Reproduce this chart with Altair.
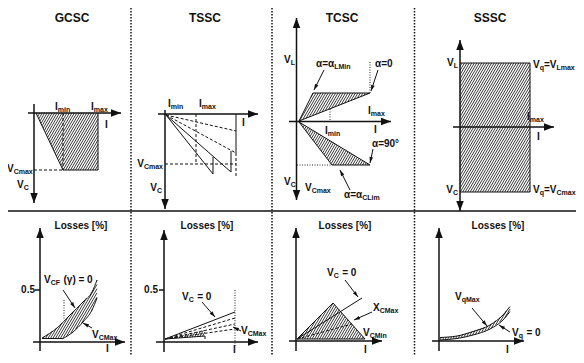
import math
import altair as alt
import pandas as pd

INK = "#111111"
FONT = "Liberation Sans, Arial, sans-serif"
WF = 1.0           # width factor of the face
TITLE_FS, LOSS_FS, MAIN_FS, SUB_FS = 12, 10, 10, 7

# ---------------- data (pixel units) ----------------
PANEL_TITLES = ["GCSC", "TSSC", "TCSC", "SSSC"]
PANEL_TITLE_X = [72, 205, 342, 490]
PANEL_TITLE_Y = 18
LOSS_TITLE = "Losses [%]"
LOSS_TITLE_X = [81, 207, 345, 498]
LOSS_TITLE_Y = 226

DIVIDER_H = [(8, 211, 584, 211)]
DIVIDER_V_X = [131, 272, 414.5]
DIVIDER_V_Y = (5, 363)

# axes: x1, y1, x2(tip), y2(tip), heads (1 = at tip, 2 = both ends)
AXES = [
    (34, 104, 34, 203, 1), (28, 113, 121, 113, 1),
    (165, 110, 165, 209, 1), (158, 114, 258, 114, 1),
    (296.5, 200, 296.5, 18, 2), (289, 121.5, 391, 121.5, 1),
    (460, 211, 460, 40, 2), (453, 127, 554, 127, 1),
    (40, 351, 40, 228, 1), (33, 342, 125, 342, 1),
    (164, 352, 164, 230, 1), (156, 342, 258, 342, 1),
    (296, 351, 296, 228, 1), (289, 341, 382, 341, 1),
    (439, 351, 439, 228, 1), (432, 341, 524, 341, 1),
]
TICKS = [(35, 290, 40, 290), (159, 290, 164, 290)]

SOLID = [
    # GCSC operating area
    (36, 113, 63, 170), (98, 113, 98, 170), (63, 170, 98, 170),
    # TSSC sawtooth
    (166, 115, 213, 174), (213, 174, 213, 157), (166, 115, 231, 172),
    (231, 172, 231, 151), (236, 114, 236, 153),
    # TCSC areas
    (299, 121, 313, 93), (313, 93, 370, 93), (299, 121, 370, 93),
    (299, 122, 332, 165), (332, 165, 370, 165), (299, 122, 370, 165),
    # SSSC area
    (460, 63, 530, 63), (530, 63, 530, 192), (460, 192, 530, 192),
    # losses
    (42, 338.5, 62, 338.5),
    (165, 339, 235, 312), (165, 339, 205, 336), (205, 336, 205, 339),
    (297, 339, 333, 303), (333, 303, 365, 339), (297, 339, 365, 339),
    (297, 339, 362, 298),
]
DASHED = [
    (63, 113, 63, 170), (34, 170, 63, 170),
    (166, 115, 236, 131), (166, 115, 236, 153), (196, 114, 196, 164),
    (165, 164, 236, 164), (236, 153, 236, 178),
    (165, 339, 235, 318), (165, 339, 235, 324), (165, 339, 235, 329),
    (297, 339, 352, 324),
]
DOTTED = [
    (370, 62, 370, 93), (330, 109, 330, 121), (297, 165, 332, 165),
    (64, 300, 64, 320), (235, 290, 235, 346),
]
# annotation arrows: tail x, tail y, tip x, tip y
ANNOT = [
    (324, 70, 314, 90), (378, 70, 371, 91), (373, 149, 370, 163), (350, 190, 340, 170),
    (63, 290, 75, 308), (92, 328, 83, 323),
    (202, 302, 215, 317), (241, 331, 233, 327),
    (345, 280, 358, 297), (372, 312, 354, 320),
    (472, 308, 487, 326), (510, 332, 499, 325),
]
CURVES = {
    "gcsc_upper": [(42, 338), (57, 328), (70, 315), (83, 302), (92, 292), (97, 280)],
    "gcsc_lower": [(62, 339), (73, 332), (83, 322), (92, 310), (97, 298)],
    "sssc_upper": [(440, 337.5), (457, 336), (473, 331.5), (490, 325), (503, 315), (510, 306.5)],
    "sssc_lower": [(440, 340), (457, 338.5), (473, 335), (490, 329), (503, 320), (510, 311.5)],
}
HATCH_POLYS = [
    [(36, 113), (98, 113), (98, 170), (63, 170)],
    [(299, 121), (313, 93), (370, 93)],
    [(299, 122), (332, 165), (370, 165)],
    [(460, 63), (530, 63), (530, 192), (460, 192)],
    CURVES["gcsc_upper"] + CURVES["gcsc_lower"][::-1],
    [(166, 339), (205, 330), (205, 336)],
    [(297, 339), (333, 303), (365, 339)],
    CURVES["sssc_upper"] + CURVES["sssc_lower"][::-1],
]
# labels: x, y, align, parts (text, kind: 0 normal, 1 subscript, 2 normal after a space)
LABELS = [
    (55, 107, "left", [("I", 0), ("min", 1)]),
    (91, 107, "left", [("I", 0), ("max", 1)]),
    (105, 125, "left", [("I", 0)]),
    (7, 169, "left", [("V", 0), ("Cmax", 1)]),
    (17, 185, "left", [("V", 0), ("C", 1)]),
    (168, 104, "left", [("I", 0), ("min", 1)]),
    (199, 104, "left", [("I", 0), ("max", 1)]),
    (242, 123, "left", [("I", 0)]),
    (163, 164, "right", [("V", 0), ("Cmax", 1)]),
    (162, 188, "right", [("V", 0), ("C", 1)]),
    (284, 60, "left", [("V", 0), ("L", 1)]),
    (284, 182, "left", [("V", 0), ("C", 1)]),
    (305, 188, "left", [("V", 0), ("Cmax", 1)]),
    (316, 64, "left", [("α=α", 0), ("LMin", 1)]),
    (375, 64, "left", [("α=0", 0)]),
    (368, 111, "left", [("I", 0), ("max", 1)]),
    (374, 130, "left", [("I", 0)]),
    (325, 131, "left", [("I", 0), ("min", 1)]),
    (372, 144, "left", [("α=90°", 0)]),
    (344, 195, "left", [("α=α", 0), ("CLim", 1)]),
    (458, 63, "right", [("V", 0), ("L", 1)]),
    (458, 190, "right", [("V", 0), ("C", 1)]),
    (533, 65, "left", [("V", 0), ("q", 1), ("=V", 0), ("Lmax", 1)]),
    (533, 190, "left", [("V", 0), ("q", 1), ("=V", 0), ("Cmax", 1)]),
    (527, 117, "left", [("I", 0), ("max", 1)]),
    (537, 137, "left", [("I", 0)]),
    (35, 290, "right", [("0.5", 0)]),
    (44, 280, "left", [("V", 0), ("CF", 1), ("(γ) = 0", 2)]),
    (92, 335, "left", [("V", 0), ("CMax", 1)]),
    (106, 349, "left", [("I", 0)]),
    (158, 290, "right", [("0.5", 0)]),
    (182, 297, "left", [("V", 0), ("C", 1), ("= 0", 2)]),
    (241, 331, "left", [("V", 0), ("CMax", 1)]),
    (233, 350, "left", [("I", 0)]),
    (327, 273, "left", [("V", 0), ("C", 1), ("= 0", 2)]),
    (373, 308, "left", [("X", 0), ("CMax", 1)]),
    (363, 333, "left", [("V", 0), ("CMin", 1)]),
    (364, 350, "left", [("I", 0)]),
    (455, 297, "left", [("V", 0), ("qMax", 1)]),
    (512, 333, "left", [("V", 0), ("q", 1), ("= 0", 2)]),
    (506, 350, "left", [("I", 0)]),
]

# ---------------- helpers ----------------
CW = {'V': .667, 'I': .278, 'C': .722, 'L': .611, 'X': .667, 'm': .889, 'i': .278, 'n': .611,
      'a': .556, 'x': .556, 'M': .833, 'F': .611, 'q': .611, '=': .584, 'α': .62, '0': .556,
      '9': .556, '5': .556, '.': .278, ' ': .278, '(': .333, ')': .333, 'γ': .556,
      '°': .4, 'G': .778, 'S': .667, 'T': .611, 'o': .611, 's': .556, 'e': .556, '[': .333,
      ']': .333, '%': .889}


def tw(s, fs):
    return sum(CW.get(ch, .6) for ch in s) * fs * WF


text_rows = []
for t, x in zip(PANEL_TITLES, PANEL_TITLE_X):
    text_rows.append(dict(x=x - tw(t, TITLE_FS) / 2, y=PANEL_TITLE_Y, t=t, fs=TITLE_FS))
for x in LOSS_TITLE_X:
    text_rows.append(dict(x=x - tw(LOSS_TITLE, LOSS_FS) / 2, y=LOSS_TITLE_Y, t=LOSS_TITLE, fs=LOSS_FS))
for x, y, align, parts in LABELS:
    def fsz(kind):
        return SUB_FS if kind == 1 else MAIN_FS
    gap = 0.35 * MAIN_FS
    total = sum(tw(p, fsz(s)) + (gap if s == 2 else 0) for p, s in parts)
    cx = x if align == "left" else (x - total if align == "right" else x - total / 2)
    for p, s in parts:
        fs = fsz(s)
        if s == 2:
            cx += gap
        text_rows.append(dict(x=cx, y=y + (2.5 if s == 1 else 0), t=p, fs=fs))
        cx += tw(p, fs)
text_df = pd.DataFrame(text_rows)


def seg_df(segs, w=1.0):
    return pd.DataFrame([dict(x=a, y=b, x2=c, y2=d, w=w) for a, b, c, d in segs])


axis_segs = [(a, b, c, d) for a, b, c, d, h in AXES]
heads_big, heads_small = [], []


def head(tx, ty, dx, dy, L, store):
    n = math.hypot(dx, dy)
    ux, uy = dx / n, dy / n
    ang = math.degrees(math.atan2(ux, -uy)) % 360
    store.append(dict(x=tx - ux * L / 2, y=ty - uy * L / 2, ang=ang))


for a, b, c, d, h in AXES:
    head(c, d, c - a, d - b, 10, heads_big)
    if h == 2:
        head(a, b, a - c, b - d, 10, heads_big)
for a, b, c, d in ANNOT:
    head(c, d, c - a, d - b, 6, heads_small)


def hatch(poly, step=4.2, k=1.7):
    cs = [y + k * x for x, y in poly]
    segs = []
    c = math.ceil(min(cs) / step) * step
    n = len(poly)
    while c <= max(cs):
        pts = []
        for i in range(n):
            (x1, y1), (x2, y2) = poly[i], poly[(i + 1) % n]
            f1, f2 = y1 + k * x1 - c, y2 + k * x2 - c
            if (f1 < 0) != (f2 < 0):
                t = f1 / (f1 - f2)
                pts.append((x1 + t * (x2 - x1), y1 + t * (y2 - y1)))
        pts.sort()
        for j in range(0, len(pts) - 1, 2):
            segs.append((pts[j][0], pts[j][1], pts[j + 1][0], pts[j + 1][1]))
        c += step
    return segs


hatch_segs = [s for p in HATCH_POLYS for s in hatch(p)]
curve_df = pd.DataFrame([dict(id=k, o=i, x=x, y=y) for k, pts in CURVES.items()
                         for i, (x, y) in enumerate(pts)])

# ---------------- chart ----------------
XS = alt.Scale(domain=[8, 576], nice=False, zero=False)
YS = alt.Scale(domain=[8, 355], nice=False, zero=False, reverse=True)


def rules(df, color=INK, **mk):
    return alt.Chart(df).mark_rule(color=color, **mk).encode(
        x=alt.X("x:Q", scale=XS, axis=None), y=alt.Y("y:Q", scale=YS, axis=None),
        x2="x2:Q", y2="y2:Q", strokeWidth=alt.StrokeWidth("w:Q", scale=None))


divv = [(x, DIVIDER_V_Y[0], x, DIVIDER_V_Y[1]) for x in DIVIDER_V_X]
layers = [
    rules(seg_df(hatch_segs, 0.9), color="#222222"),
    rules(seg_df(DIVIDER_H, 1.6)),
    rules(seg_df(divv, 1.5), strokeDash=[1.5, 1.5]),
    rules(seg_df(axis_segs + TICKS, 1.5)),
    rules(seg_df(SOLID, 1.0)),
    rules(seg_df(DASHED, 1.0), strokeDash=[3, 2]),
    rules(seg_df(DOTTED, 0.9), strokeDash=[1, 1.5]),
    rules(seg_df([(a, b, c, d) for a, b, c, d in ANNOT], 1.0)),
    alt.Chart(curve_df).mark_line(color=INK, strokeWidth=1.0, interpolate="monotone").encode(
        x=alt.X("x:Q", scale=XS, axis=None), y=alt.Y("y:Q", scale=YS, axis=None),
        detail="id:N", order="o:Q"),
    alt.Chart(pd.DataFrame(heads_big)).mark_point(
        shape="M0,-1L0.75,1L-0.75,1Z", filled=True, size=100, color=INK, opacity=1).encode(
        x=alt.X("x:Q", scale=XS, axis=None), y=alt.Y("y:Q", scale=YS, axis=None),
        angle=alt.Angle("ang:Q", scale=None)),
    alt.Chart(pd.DataFrame(heads_small)).mark_point(
        shape="M0,-1L0.6,1L-0.6,1Z", filled=True, size=36, color=INK, opacity=1).encode(
        x=alt.X("x:Q", scale=XS, axis=None), y=alt.Y("y:Q", scale=YS, axis=None),
        angle=alt.Angle("ang:Q", scale=None)),
    alt.Chart(text_df).mark_text(align="left", baseline="middle", font=FONT,
                                 fontWeight="bold", color=INK).encode(
        x=alt.X("x:Q", scale=XS, axis=None), y=alt.Y("y:Q", scale=YS, axis=None),
        text="t:N", size=alt.Size("fs:Q", scale=None)),
]

chart = alt.layer(*layers).properties(
    width=568, height=347, autosize="none", padding=0, background="white"
).configure_view(stroke=None)

chart.save("out.html", embed_options={"renderer": "svg", "actions": False})
